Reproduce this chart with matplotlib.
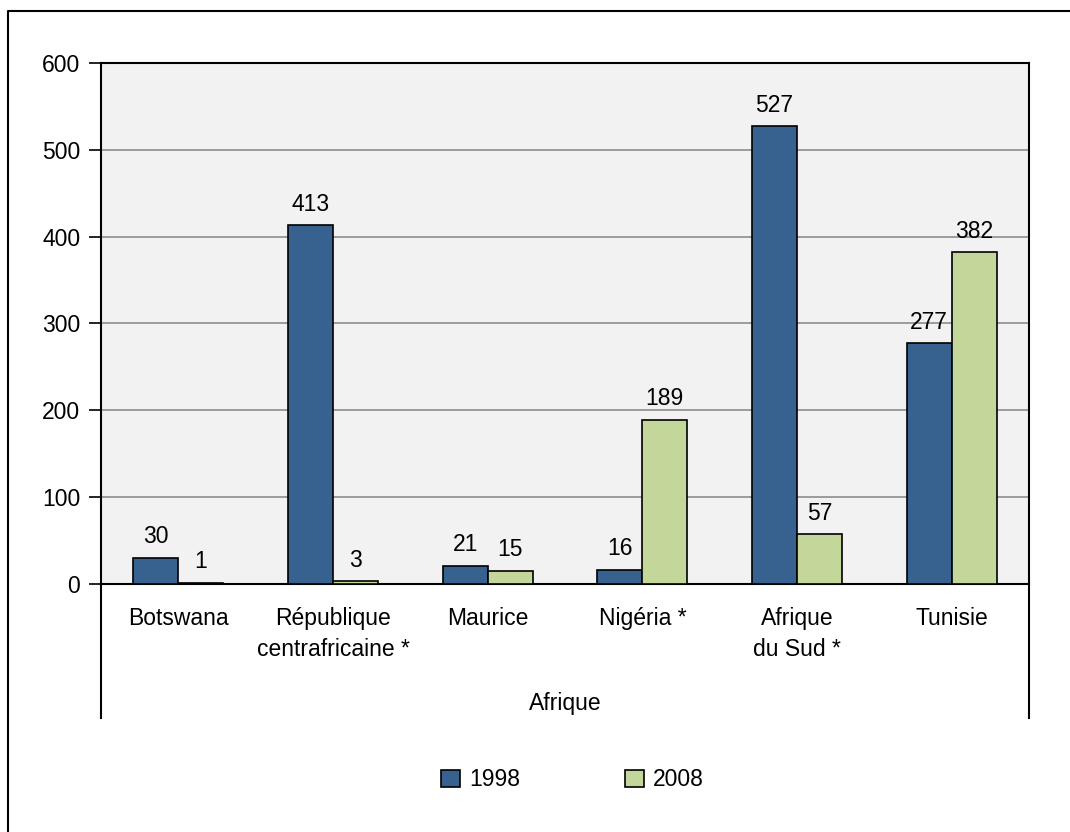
import matplotlib.pyplot as plt
import numpy as np
from matplotlib.lines import Line2D

plt.rcParams['font.family'] = ['Liberation Sans', 'DejaVu Sans']

countries = ['Botswana', 'République\ncentrafricaine *', 'Maurice', 'Nigéria *',
             'Afrique\ndu Sud *', 'Tunisie']
group_label = 'Afrique'
years = ['1998', '2008']
values_1998 = [30, 413, 21, 16, 527, 277]
values_2008 = [1, 3, 15, 189, 57, 382]

blue = '#37618F'
green = '#C4D79B'
fs = 16.5

fig = plt.figure(figsize=(10.7, 8.32), dpi=100)
ax = fig.add_axes([0.0944, 0.2981, 0.8673, 0.6262])
ax.set_facecolor('#F2F2F2')

x = np.arange(len(countries))
w = 0.29
b1 = ax.bar(x - w / 2, values_1998, w, color=blue, edgecolor='black', linewidth=1.2, label=years[0], zorder=3)
b2 = ax.bar(x + w / 2, values_2008, w, color=green, edgecolor='black', linewidth=1.2, label=years[1], zorder=3)

for bars, vals in [(b1, values_1998), (b2, values_2008)]:
    for r, v in zip(bars, vals):
        ax.annotate(str(v), (r.get_x() + r.get_width() / 2, r.get_height()),
                    xytext=(0, 7), textcoords='offset points',
                    ha='center', va='bottom', fontsize=fs)

ax.set_xlim(-0.5, len(countries) - 0.5)
ax.set_ylim(0, 600)
ax.set_yticks(range(0, 601, 100))
ax.yaxis.grid(True, color='#8C8C8C', linewidth=1.2, zorder=0)
ax.set_axisbelow(True)
ax.tick_params(axis='y', length=9, width=1.2, pad=6, labelsize=fs)
ax.set_xticks(x)
ax.set_xticklabels(countries, linespacing=1.45)
ax.tick_params(axis='x', length=0, pad=16.5, labelsize=fs)
for s in ax.spines.values():
    s.set_linewidth(1.5)
    s.set_color('black')

# group axis lines below the plot
ax.plot([0, 0], [0, -0.257], transform=ax.transAxes, color='black', lw=1.5, clip_on=False)
ax.plot([1, 1], [0, -0.257], transform=ax.transAxes, color='black', lw=1.5, clip_on=False)
ax.text(0.5, -0.23, group_label, transform=ax.transAxes, ha='center', va='center', fontsize=fs)

fig.legend(handles=[b1, b2], labels=years, loc='center', bbox_to_anchor=(0.535, 0.0625),
           ncol=2, frameon=False, fontsize=fs, handlelength=0.8, handleheight=0.8,
           handletextpad=0.4, columnspacing=4.6)

# outer frame (only left and top edges visible)
fig.add_artist(Line2D([8 / 1070, 8 / 1070, 1.0], [0.0, 1 - 11 / 832, 1 - 11 / 832],
                      transform=fig.transFigure, color='black', linewidth=1.5))

fig.savefig('out.png', dpi=100)
